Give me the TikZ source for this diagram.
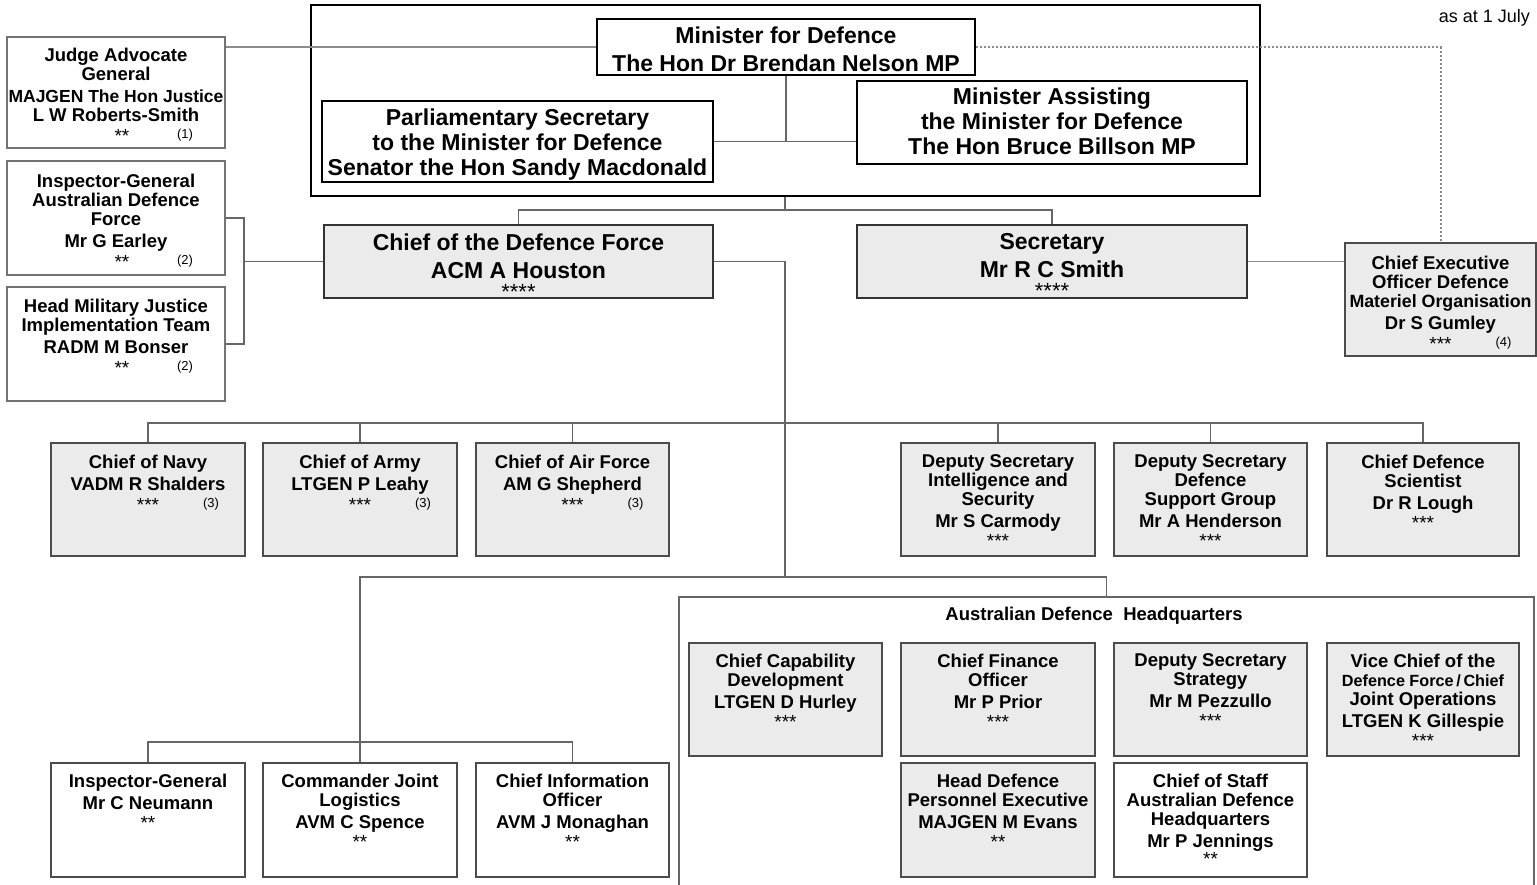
\documentclass[tikz,border=0pt]{standalone}
\usepackage{fontspec}
\setmainfont{Liberation Sans}
\newcommand\sn[2]{\makebox[0pt][c]{\mdseries\fontsize{19}{19}\selectfont #1}\makebox[0pt][l]{\hspace{55pt}\raisebox{3.5pt}{\mdseries\fontsize{13}{13}\selectfont #2}}}
\newcommand\so[1]{{\mdseries\fontsize{19}{19}\selectfont #1}}
\newcommand\sob[1]{{\mdseries\fontsize{22}{22}\selectfont #1}}
\newcommand\ob[9]{%
  \node[#6, minimum width={#4-#2}, minimum height={#5-#3}] (#1) at ({(#2+#4)/2},{(#3+#5)/2}) {};
  \node[#7, anchor=north] (#1-t) at ([yshift=-#8pt-1.5pt]#1.north) {#9};}
\tikzset{
  gbox/.style={draw=black!70, line width=1.8pt, fill=black!8, inner sep=0pt},
  wbox/.style={draw=black!70, line width=1.8pt, fill=white, inner sep=0pt},
  lbox/.style={draw=black!55, line width=1.6pt, fill=white, inner sep=0pt},
  topbox/.style={draw=black, line width=2.5pt, fill=white, inner sep=0pt},
  bigbox/.style={draw=black!80, line width=2.5pt, fill=black!8, inner sep=0pt},
  outer/.style={draw=black, line width=2.5pt, inner sep=0pt},
  abox/.style={draw=black!60, line width=1.8pt, inner sep=0pt},
  txt/.style={inner sep=0pt, align=center, font=\bfseries\fontsize{18.5}{19}\selectfont},
  bigtxt/.style={inner sep=0pt, align=center, font=\bfseries\fontsize{23}{25}\selectfont},
  conn/.style={draw=black!60, line width=1.8pt},
  lconn/.style={draw=black!45, line width=1.6pt},
}
\begin{document}
\begin{tikzpicture}[x=1pt,y=-1pt]
\useasboundingbox (0,0) rectangle (1537,884);
\clip (0,0) rectangle (1537,884);
% outer minister frame and ADHQ frame
\node[outer, minimum width=949, minimum height=191] (minbox) at (785.5,100.5) {};
\node[abox, minimum width=855, minimum height=303] (adhq) at (1106.5,748.5) {};
\node[font=\bfseries\fontsize{18.5}{19}\selectfont, inner sep=0pt] (adhqlbl) at (1094,616) {Australian Defence\ \ Headquarters};
\node[anchor=east, inner sep=0pt, font=\fontsize{18}{18}\selectfont] (asat) at (1530,18) {as at 1 July};
% top boxes
\ob{mfd}{597}{19}{975}{75}{topbox}{bigtxt}{7.5}{Minister for Defence\\[3pt]The Hon Dr Brendan Nelson MP}
\ob{psec}{322}{101}{713}{182}{topbox}{bigtxt}{7.5}{Parliamentary Secretary\\to the Minister for Defence\\Senator the Hon Sandy Macdonald}
\ob{masst}{857}{81}{1247}{164}{topbox}{bigtxt}{6.5}{Minister Assisting\\the Minister for Defence\\The Hon Bruce Billson MP}
% left column
\ob{jag}{7}{37}{225}{148}{lbox}{txt}{10}{Judge Advocate\\General\\[3pt]{\fontsize{17.5}{19}\selectfont MAJGEN The Hon Justice}\\L W Roberts-Smith\\[2pt]\hspace*{12pt}\sn{**}{(1)}}
\ob{igadf}{7}{161}{225}{275}{lbox}{txt}{12}{Inspector-General\\Australian Defence\\Force\\[3pt]Mr G Earley\\[2pt]\hspace*{12pt}\sn{**}{(2)}}
\ob{hmj}{7}{287}{225}{401}{lbox}{txt}{11}{Head Military Justice\\Implementation Team\\[3pt]RADM M Bonser\\[2pt]\hspace*{12pt}\sn{**}{(2)}}
% CDF / Secretary / CEO DMO
\ob{cdf}{324}{225}{713}{298}{bigbox}{bigtxt}{8}{Chief of the Defence Force\\[3pt]ACM A Houston\\[-4pt]\sob{****}}
\ob{sec}{857}{225}{1247}{298}{bigbox}{bigtxt}{8}{Secretary\\[3pt]Mr R C Smith\\[-4pt]\sob{****}}
\ob{ceo}{1345}{243}{1536}{356}{gbox}{txt}{12}{Chief Executive\\Officer Defence\\{\fontsize{17.8}{19}\selectfont Materiel Organisation}\\[3pt]Dr S Gumley\\[2pt]\sn{***}{(4)}}
% second row
\ob{navy}{51}{443}{245}{556}{gbox}{txt}{11}{Chief of Navy\\[3pt]VADM R Shalders\\[2pt]\sn{***}{(3)}}
\ob{army}{263}{443}{457}{556}{gbox}{txt}{11}{Chief of Army\\[3pt]LTGEN P Leahy\\[2pt]\sn{***}{(3)}}
\ob{air}{476}{443}{669}{556}{gbox}{txt}{11}{Chief of Air Force\\[3pt]AM G Shepherd\\[2pt]\sn{***}{(3)}}
\ob{dsis}{901}{443}{1095}{556}{gbox}{txt}{11}{Deputy Secretary\\Intelligence and\\Security\\[3pt]Mr S Carmody\\[1pt]\so{***}}
\ob{dsdsg}{1114}{443}{1307}{556}{gbox}{txt}{11}{Deputy Secretary\\Defence\\Support Group\\[3pt]Mr A Henderson\\[1pt]\so{***}}
\ob{cds}{1327}{443}{1519}{556}{gbox}{txt}{11}{Chief Defence\\Scientist\\[3pt]Dr R Lough\\[1pt]\so{***}}
% ADHQ boxes
\ob{ccd}{689}{643}{882}{756}{gbox}{txt}{10}{Chief Capability\\Development\\[3pt]LTGEN D Hurley\\[1pt]\so{***}}
\ob{cfo}{901}{643}{1095}{756}{gbox}{txt}{10}{Chief Finance\\Officer\\[3pt]Mr P Prior\\[1pt]\so{***}}
\ob{dss}{1114}{643}{1307}{756}{gbox}{txt}{10}{Deputy Secretary\\Strategy\\[3pt]Mr M Pezzullo\\[1pt]\so{***}}
\ob{vcdf}{1327}{643}{1519}{756}{gbox}{txt}{10}{Vice Chief of the\\{\fontsize{16.2}{19}\selectfont Defence Force\,/\,Chief}\\Joint Operations\\[3pt]LTGEN K Gillespie\\[1pt]\so{***}}
\ob{hdpe}{901}{763}{1095}{877}{gbox}{txt}{10}{Head Defence\\Personnel Executive\\[3pt]MAJGEN M Evans\\[1pt]\so{**}}
\ob{cos}{1114}{763}{1307}{877}{wbox}{txt}{10}{Chief of Staff\\Australian Defence\\Headquarters\\[3pt]Mr P Jennings\\[-1pt]\so{**}}
% bottom left
\ob{ig}{51}{763}{245}{877}{wbox}{txt}{10}{Inspector-General\\[3pt]Mr C Neumann\\[1pt]\so{**}}
\ob{cjl}{263}{763}{457}{877}{wbox}{txt}{10}{Commander Joint\\Logistics\\[3pt]AVM C Spence\\[1pt]\so{**}}
\ob{cio}{476}{763}{669}{877}{wbox}{txt}{10}{Chief Information\\Officer\\[3pt]AVM J Monaghan\\[1pt]\so{**}}
% connectors
\draw[lconn] (mfd.west) -- (mfd.west -| jag.east);
\coordinate (lb) at ([xshift=-79pt]cdf.west);
\draw[conn] (igadf.east) -| (lb) |- (hmj.east);
\draw[conn] (lb) -- (cdf.west);
\draw[conn] (mfd.south) -- (mfd.south |- psec.east);
\draw[conn] (psec.east) -- (psec.east -| masst.west);
\coordinate (tj) at (785,210);
\draw[conn] (minbox.south -| tj) -- (tj);
\draw[conn] (cdf.north) |- (tj) -| (sec.north);
\draw[lconn] (sec.east) -- (sec.east -| ceo.west);
\draw[draw=black!45, line width=2pt, dash pattern=on 2pt off 2pt] (mfd.east) -| (ceo.north);
\coordinate (t3) at (785,577);
\draw[conn] (cdf.east) -| (t3);
\coordinate (bus) at (785,423);
\draw[conn] (navy.north) |- (bus) -| (cds.north);
\draw[conn] (army.north) -- (army.north |- bus);
\draw[conn] (air.north) -- (air.north |- bus);
\draw[conn] (dsis.north) -- (dsis.north |- bus);
\draw[conn] (dsdsg.north) -- (dsdsg.north |- bus);
\draw[conn] (cjl.north) |- (t3) -| (adhq.north);
\coordinate (lbus) at (360,742);
\draw[conn] (ig.north) |- (lbus) -| (cio.north);
\end{tikzpicture}
\end{document}
